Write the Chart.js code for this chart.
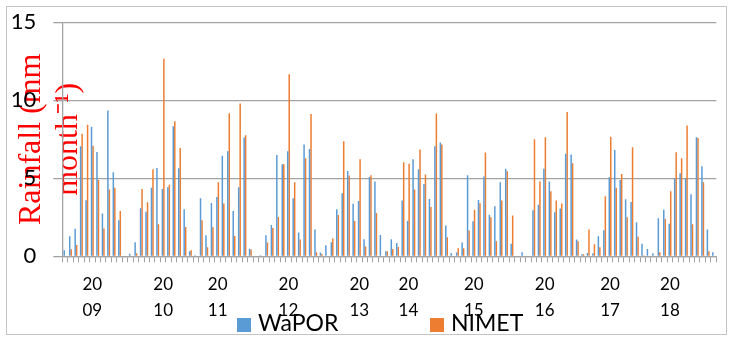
<!DOCTYPE html>
<html>
<head>
<meta charset="utf-8">
<script src="https://cdn.jsdelivr.net/npm/chart.js@4.4.1/dist/chart.umd.min.js"></script>
<style>
  html, body { margin: 0; padding: 0; background: #fff; }
  #wrap { position: relative; width: 733px; height: 338px; overflow: hidden; }
  #frame { position: absolute; left: 6px; top: 6px; width: 721px; height: 329px;
           border: 1px solid #c4c4c4; box-sizing: border-box; pointer-events: none; }
  #legend { position: absolute; left: 0; top: 0; width: 733px; height: 338px; pointer-events: none;
            font-family: Lato, sans-serif; font-size: 23px; line-height: 23px; color: #000; }
  .item { position: absolute; top: 311px; white-space: nowrap; }
  .item:nth-child(1) { left: 237px; }
  .item:nth-child(2) { left: 430px; }
  .swatch { position: absolute; left: 0; top: 7px; width: 14px; height: 14px; }
  .label { position: absolute; left: 21px; top: 0; }
</style>
</head>
<body>
<div id="wrap">
  <canvas id="chart" width="733" height="338"></canvas>
  <div id="frame"></div>
  <div id="legend"></div>
</div>
<script>
// Monthly rainfall, January 2009 – December 2018
const years = ['2009', '2010', '2011', '2012', '2013', '2014', '2015', '2016', '2017', '2018'];
const monthNums = ['01', '02', '03', '04', '05', '06', '07', '08', '09', '10', '11', '12'];

// Months whose axis slot carries the year label
const yearTickAt = ['2009-06', '2010-07', '2011-05', '2012-06', '2013-07',
                    '2014-04', '2015-04', '2016-05', '2017-05', '2018-04'];

const seriesNames = ['WaPOR', 'NIMET'];

const wapor = [
  0.38, 1.28, 1.77, 7.05, 3.59, 8.31, 6.69, 2.74, 9.34, 5.38, 2.31, 0,
  0.17, 0.90, 3.08, 2.86, 4.40, 5.66, 4.32, 4.42, 8.33, 5.64, 3.01, 0.32,
  0.06, 3.72, 1.35, 3.42, 3.80, 6.45, 6.73, 2.91, 4.42, 7.61, 0.49, 0,
  0.06, 1.35, 2.01, 6.50, 5.90, 6.73, 3.72, 1.52, 7.16, 6.88, 1.71, 0.24,
  0.71, 0.90, 3.02, 4.04, 5.46, 3.37, 3.55, 1.09, 5.08, 4.80, 1.36, 0.32,
  1.09, 0.85, 3.57, 2.26, 6.22, 5.58, 4.64, 3.68, 7.05, 7.29, 1.97, 0.21,
  0.24, 0.88, 5.19, 2.24, 3.61, 5.11, 2.67, 3.21, 4.74, 5.62, 0.81, 0,
  0.26, 0, 2.95, 3.31, 5.62, 4.79, 2.82, 3.06, 6.58, 6.52, 1.07, 0.13,
  0.21, 0.19, 1.28, 1.67, 5.06, 6.82, 4.89, 3.65, 3.48, 2.18, 0.81, 0.47,
  0.19, 2.44, 2.99, 2.09, 5.00, 5.32, 5.00, 3.97, 7.63, 5.77, 1.71, 0.26
];

const nimet = [
  0, 0.45, 0.73, 7.86, 8.44, 7.09, 4.89, 1.79, 4.29, 4.40, 2.91, 0,
  0, 0.19, 4.32, 3.46, 5.58, 2.05, 12.67, 4.59, 8.65, 6.94, 1.88, 0.38,
  0, 2.31, 0.58, 1.86, 4.74, 3.38, 9.17, 1.30, 9.79, 7.76, 0.43, 0,
  0, 0.88, 1.82, 2.52, 5.90, 11.67, 4.74, 1.07, 6.29, 9.12, 0.26, 0.15,
  0, 1.14, 2.64, 7.37, 5.18, 2.26, 6.22, 0.63, 5.20, 2.78, 0, 0.32,
  0.47, 0.60, 6.03, 5.94, 4.29, 6.84, 5.24, 3.16, 9.15, 7.16, 1.22, 0,
  0.51, 0.51, 1.65, 2.99, 3.40, 6.65, 2.50, 0.96, 3.57, 5.45, 2.61, 0,
  0, 0, 7.50, 4.79, 7.63, 4.17, 3.57, 3.38, 9.25, 5.96, 0.96, 0.13,
  1.71, 0.77, 0.58, 3.85, 7.67, 4.40, 5.28, 2.50, 6.99, 1.26, 0.06, 0,
  0, 0.26, 2.39, 4.17, 6.67, 6.28, 8.38, 2.05, 7.59, 4.74, 0.32, 0
];

const yTicks = [0, 5, 10, 15];

const categories = [];
years.forEach(y => monthNums.forEach(m => categories.push(y + '-' + m)));

// Legend rendered as HTML beneath the plot
const htmlLegend = {
  id: 'htmlLegend',
  afterUpdate(chart) {
    const box = document.getElementById('legend');
    box.innerHTML = '';
    chart.data.datasets.forEach(ds => {
      const item = document.createElement('div');
      item.className = 'item';
      const sw = document.createElement('span');
      sw.className = 'swatch';
      sw.style.background = ds.backgroundColor;
      const tx = document.createElement('span');
      tx.className = 'label';
      tx.textContent = ds.label;
      item.appendChild(sw);
      item.appendChild(tx);
      box.appendChild(item);
    });
  }
};

const gridGrey = '#a3a3a3';

new Chart(document.getElementById('chart'), {
  type: 'bar',
  data: {
    labels: categories,
    datasets: [
      { label: seriesNames[0], data: wapor, backgroundColor: '#5B9BD5', borderWidth: 0,
        categoryPercentage: 0.55, barPercentage: 1.0 },
      { label: seriesNames[1], data: nimet, backgroundColor: '#ED7D31', borderWidth: 0,
        categoryPercentage: 0.55, barPercentage: 1.0 }
    ]
  },
  plugins: [htmlLegend],
  options: {
    responsive: false,
    animation: false,
    devicePixelRatio: 1,
    layout: { padding: { left: 0, right: 16.7, top: 22.3, bottom: 0 } },
    plugins: {
      legend: { display: false },
      tooltip: { enabled: false }
    },
    scales: {
      x: {
        offset: true,
        grid: { offset: true, drawOnChartArea: false, drawTicks: true, tickLength: 6,
                color: gridGrey, lineWidth: 1 },
        border: { display: true, color: gridGrey, width: 1.3 },
        ticks: {
          autoSkip: false, maxRotation: 0, minRotation: 0, padding: 9, color: '#000',
          font: { family: 'Lato', size: 17, lineHeight: 1.53 },
          callback(value) {
            const cat = categories[value];
            if (!yearTickAt.includes(cat)) return '';
            const y = cat.slice(0, 4);
            return [y.slice(0, 2), y.slice(2)];
          }
        },
        afterFit(scale) { scale.height = 81.7; }
      },
      y: {
        min: yTicks[0],
        max: yTicks[yTicks.length - 1],
        afterBuildTicks(scale) { scale.ticks = yTicks.map(v => ({ value: v })); },
        ticks: { padding: 17, color: '#000', font: { family: 'Lato', size: 22 } },
        grid: { color: gridGrey, lineWidth: 1.3, drawTicks: true, tickLength: 9 },
        border: { display: true, color: gridGrey, width: 1.3 },
        title: {
          display: true,
          text: ['Rainfall (mm', 'month\u207B\u00B9)'],
          color: '#ff0000',
          font: { family: 'Liberation Serif', size: 32, lineHeight: 1.156 },
          padding: { top: 12.7, bottom: 0 }
        },
        afterFit(scale) {
          scale.width = 62.3;
          scale.paddingTop = 0;
          scale.paddingBottom = 0;
        }
      }
    }
  }
});
</script>
</body>
</html>
